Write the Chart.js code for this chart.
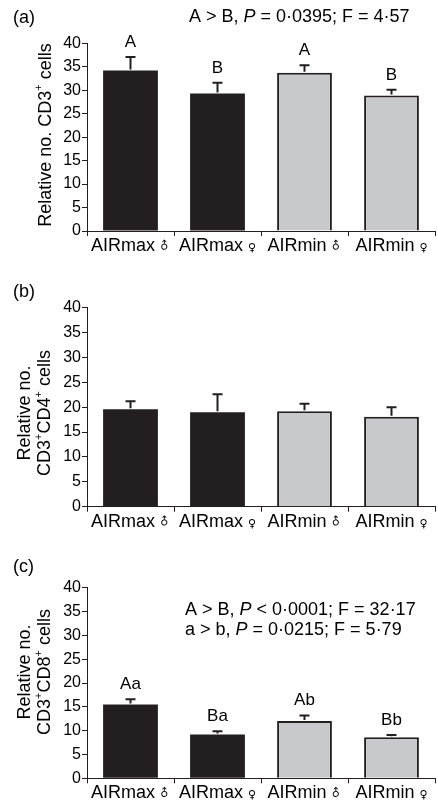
<!DOCTYPE html>
<html><head><meta charset="utf-8">
<script src="https://cdn.jsdelivr.net/npm/chart.js@4.4.1/dist/chart.umd.min.js"></script>
<style>
html,body{margin:0;padding:0;background:#fff;width:438px;height:802px;overflow:hidden}
canvas{position:absolute;left:0}
</style></head><body>
<canvas id="ca" width="438" height="260" style="top:0px"></canvas>
<canvas id="cb" width="438" height="276" style="top:260px"></canvas>
<canvas id="cc" width="438" height="266" style="top:536px"></canvas>
<script>
// ---- data ----
const categories = ['AIRmax', 'AIRmax', 'AIRmin', 'AIRmin'];
const sexSymbols = ['\u2642', '\u2640', '\u2642', '\u2640'];
const yMin = 0, yMax = 40, yStep = 5;

const cd3Means = [34.2, 29.3, 33.7, 28.9];
const cd3Errors = [2.9, 2.3, 1.6, 1.2];
const cd3Letters = ['A', 'B', 'A', 'B'];

const cd4Means = [19.6, 19.0, 19.2, 18.1];
const cd4Errors = [1.6, 3.6, 1.5, 1.9];

const cd8Means = [15.5, 9.2, 12.0, 8.6];
const cd8Errors = [1.1, 0.7, 1.2, 0.5];
const cd8Letters = ['Aa', 'Ba', 'Ab', 'Bb'];

// ---- styling ----
const FONT = '"Liberation Sans", Arial, Helvetica, sans-serif';
const INK = '#231f20';
const GREY = '#c8c9cb';
const barFill = [INK, INK, GREY, GREY];

function drawRich(ctx, segs, x, y, size) {
  let cx = x;
  segs.forEach(s => {
    const fs = s.sup ? Math.round(size * 0.6) : size;
    ctx.font = (s.it ? 'italic ' : '') + fs + 'px ' + FONT;
    ctx.fillText(s.t, cx, s.sup ? y - size * 0.38 : y);
    cx += ctx.measureText(s.t).width;
  });
  return cx - x;
}
function richWidth(ctx, segs, size) {
  let w = 0;
  segs.forEach(s => {
    const fs = s.sup ? Math.round(size * 0.6) : size;
    ctx.font = (s.it ? 'italic ' : '') + fs + 'px ' + FONT;
    w += ctx.measureText(s.t).width;
  });
  return w;
}

const overlay = {
  id: 'overlay',
  afterDatasetsDraw(chart, args, o) {
    const ctx = chart.ctx;
    const xs = chart.scales.x, ys = chart.scales.y;
    const ca = chart.chartArea;
    ctx.save();
    ctx.fillStyle = '#000';
    ctx.strokeStyle = INK;
    // error bars + letters
    o.means.forEach((m, i) => {
      const px = xs.getPixelForValue(i);
      const y0 = ys.getPixelForValue(m);
      const y1 = ys.getPixelForValue(m + o.errors[i]);
      ctx.lineWidth = 2;
      ctx.beginPath();
      ctx.moveTo(px, y0 - 1); ctx.lineTo(px, y1);
      ctx.moveTo(px - 5, y1); ctx.lineTo(px + 5, y1);
      ctx.stroke();
      if (o.letters) {
        ctx.font = '17px ' + FONT;
        ctx.textAlign = 'center';
        ctx.textBaseline = 'alphabetic';
        ctx.fillText(o.letters[i], px, y1 - 10);
      }
    });
    // category labels with sex symbols
    ctx.textBaseline = 'alphabetic';
    ctx.textAlign = 'left';
    categories.forEach((c, i) => {
      const px = xs.getPixelForValue(i);
      ctx.font = '18px ' + FONT;
      const w1 = ctx.measureText(c + ' ').width;
      ctx.font = '11px "DejaVu Sans", ' + FONT;
      const w2 = ctx.measureText(sexSymbols[i]).width;
      const x0 = px - (w1 + w2) / 2;
      const by = ca.bottom + 20;
      ctx.font = '18px ' + FONT;
      ctx.fillText(c + ' ', x0, by);
      ctx.font = '11px "DejaVu Sans", ' + FONT;
      if (sexSymbols[i] === '\u2642') {
        ctx.save();
        ctx.translate(x0 + w1 + w2 / 2, by - 5);
        ctx.rotate(-Math.PI / 4);
        ctx.textAlign = 'center';
        ctx.textBaseline = 'middle';
        ctx.fillText(sexSymbols[i], 0, 0);
        ctx.restore();
      } else {
        ctx.fillText(sexSymbols[i], x0 + w1, by);
      }
    });
    // panel label
    ctx.font = '18px ' + FONT;
    ctx.fillText(o.panel, 13, o.panelY);
    // annotations
    (o.notes || []).forEach(n => drawRich(ctx, n.segs, n.x, n.y, 18));
    // y title (rotated)
    ctx.save();
    ctx.translate(0, o.titleY);
    ctx.rotate(-Math.PI / 2);
    ctx.textBaseline = 'middle';
    o.titleLines.forEach(l => {
      const w = richWidth(ctx, l.segs, 18);
      drawRich(ctx, l.segs, -w / 2, l.x, 18);
    });
    ctx.restore();
    ctx.restore();
  }
};

function makeChart(id, means, errors, extra, topPad, bottomH) {
  return new Chart(document.getElementById(id), {
    type: 'bar',
    data: {
      labels: categories,
      datasets: [{
        data: means,
        backgroundColor: barFill,
        borderColor: INK,
        borderWidth: [0, 0, 2, 2],
        borderSkipped: 'start',
        categoryPercentage: 1.0,
        barPercentage: 0.63
      }]
    },
    options: {
      responsive: false,
      animation: false,
      devicePixelRatio: 1,
      layout: { padding: { left: 0, right: 3, top: topPad, bottom: 0 } },
      plugins: {
        legend: { display: false },
        tooltip: { enabled: false },
        overlay: Object.assign({ means: means, errors: errors }, extra)
      },
      scales: {
        x: {
          offset: true,
          grid: { display: true, drawOnChartArea: false, drawTicks: true, tickLength: 5, color: INK, offset: true },
          border: { display: true, color: INK, width: 1 },
          ticks: { display: false },
          afterFit(s) { s.height = bottomH; }
        },
        y: {
          min: yMin, max: yMax,
          grid: { display: true, drawOnChartArea: false, drawTicks: true, tickLength: 5, color: INK },
          border: { display: true, color: INK, width: 1 },
          ticks: { stepSize: yStep, color: '#000', padding: 1, font: { family: FONT, size: 16 } },
          afterFit(s) { s.width = 87; }
        }
      }
    },
    plugins: [overlay]
  });
}

const plus = { t: '+', sup: true };

makeChart('ca', cd3Means, cd3Errors, {
  letters: cd3Letters,
  panel: '(a)', panelY: 23,
  notes: [{ x: 189, y: 22, segs: [{ t: 'A > B, ' }, { t: 'P', it: true }, { t: ' = 0\u00b70395; F = 4\u00b757' }] }],
  titleY: 135,
  titleLines: [{ x: 46, segs: [{ t: 'Relative no. CD3' }, plus, { t: ' cells' }] }]
}, 43.3, 29);

makeChart('cb', cd4Means, cd4Errors, {
  panel: '(b)', panelY: 37,
  notes: [],
  titleY: 153,
  titleLines: [
    { x: 25, segs: [{ t: 'Relative no.' }] },
    { x: 45.5, segs: [{ t: 'CD3' }, plus, { t: 'CD4' }, plus, { t: ' cells' }] }
  ]
}, 47.7, 29.3);

makeChart('cc', cd8Means, cd8Errors, {
  letters: cd8Letters,
  panel: '(c)', panelY: 36,
  notes: [
    { x: 185, y: 79, segs: [{ t: 'A > B, ' }, { t: 'P', it: true }, { t: ' < 0\u00b70001; F = 32\u00b717' }] },
    { x: 185, y: 99, segs: [{ t: 'a > b, ' }, { t: 'P', it: true }, { t: ' = 0\u00b70215; F = 5\u00b779' }] }
  ],
  titleY: 136,
  titleLines: [
    { x: 25, segs: [{ t: 'Relative no.' }] },
    { x: 45.5, segs: [{ t: 'CD3' }, plus, { t: 'CD8' }, plus, { t: ' cells' }] }
  ]
}, 51.7, 23.7);
</script>
</body></html>
